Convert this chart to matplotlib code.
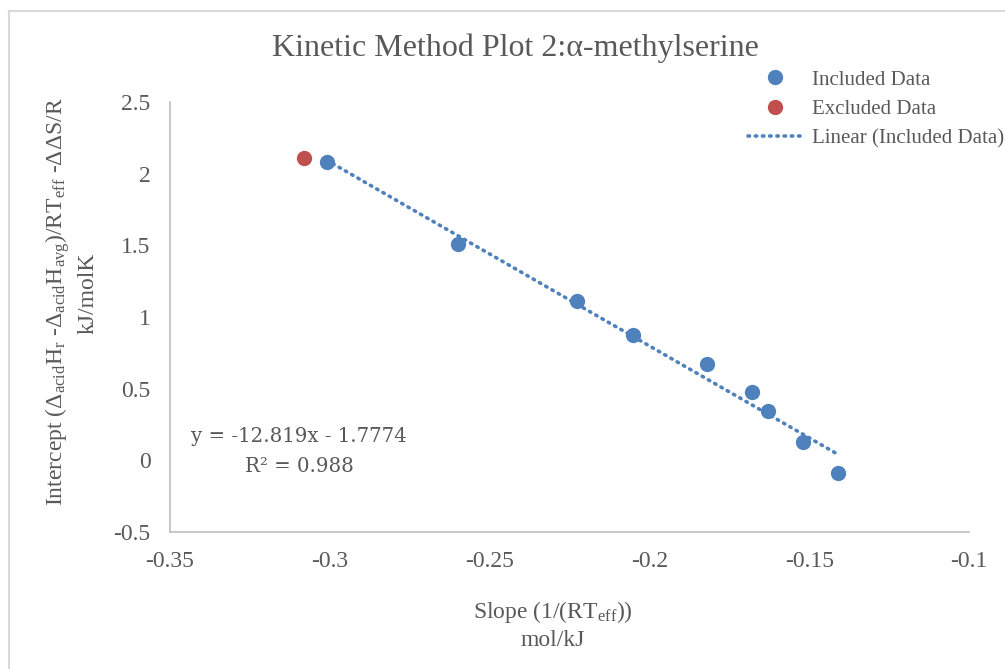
import numpy as np
import matplotlib
matplotlib.use("Agg")
import matplotlib.pyplot as plt
from matplotlib.lines import Line2D

# ---- data ----
slope_incl = [-0.301, -0.260, -0.2225, -0.205, -0.182, -0.168, -0.163, -0.152, -0.141]
icpt_incl = [2.080, 1.507, 1.115, 0.871, 0.675, 0.479, 0.346, 0.129, -0.087]
slope_excl = [-0.308]
icpt_excl = [2.108]

xticks = [-0.35, -0.3, -0.25, -0.2, -0.15, -0.1]
yticks = [-0.5, 0, 0.5, 1, 1.5, 2, 2.5]

blue = "#4F81BD"
red = "#C0504D"
grey = "#595959"

plt.rcParams["font.family"] = ["Liberation Serif", "DejaVu Serif"]
plt.rcParams["mathtext.fontset"] = "custom"
plt.rcParams["mathtext.rm"] = "Liberation Serif"
plt.rcParams["mathtext.it"] = "Liberation Serif:italic"

fig = plt.figure(figsize=(10.05, 6.69), dpi=100)
ax = fig.add_axes([170 / 1005, 1 - 532 / 669, (969 - 170) / 1005, (532 - 102) / 669])

# trendline over included data
m, b = np.polyfit(slope_incl, icpt_incl, 1)
xs = np.array([min(slope_incl), max(slope_incl)])
ax.plot(xs, m * xs + b, color=blue, lw=2.6, linestyle=(0, (0.4, 1.6)),
        dash_capstyle="round", zorder=2)

ax.plot(slope_incl, icpt_incl, "o", color=blue, ms=11, mec="none", zorder=3)
ax.plot(slope_excl, icpt_excl, "o", color=red, ms=11, mec="none", zorder=3)

ax.set_xlim(-0.35, -0.1)
ax.set_ylim(-0.5, 2.5)
ax.set_xticks(xticks)
ax.set_xticklabels([f"{t:g}" for t in xticks])
ax.set_yticks(yticks)
ax.set_yticklabels([f"{t:g}" for t in yticks])
ax.tick_params(length=0, labelsize=17, colors=grey, pad=14)
for s in ["top", "right"]:
    ax.spines[s].set_visible(False)
for s in ["left", "bottom"]:
    ax.spines[s].set_color("#BFBFBF")
    ax.spines[s].set_linewidth(1.2)

# title and axis titles
fig.text(515 / 1005, 1 - 48 / 669, "Kinetic Method Plot 2:\u03b1-methylserine",
         fontsize=23, color=grey, ha="center", va="center")
fig.text(553 / 1005, 1 - 612 / 669, r"Slope (1/(RT$_{\mathrm{eff}}$))",
         fontsize=17, color=grey, ha="center", va="center")
fig.text(553 / 1005, 1 - 641 / 669, "mol/kJ",
         fontsize=17, color=grey, ha="center", va="center")
fig.text(58 / 1005, 1 - 302 / 669,
         r"Intercept ($\Delta_{\mathrm{acid}}$H$_{\mathrm{r}}$ -$\Delta_{\mathrm{acid}}$H$_{\mathrm{avg}}$)/RT$_{\mathrm{eff}}$ -$\Delta\Delta$S/R",
         fontsize=17, color=grey, ha="center", va="center", rotation=90)
fig.text(88 / 1005, 1 - 293 / 669, "kJ/molK",
         fontsize=17, color=grey, ha="center", va="center", rotation=90)

# equation
fig.text(299 / 1005, 1 - 436 / 669, "y = -12.819x - 1.7774",
         fontsize=14.2, color=grey, ha="center", va="center", family="DejaVu Serif")
fig.text(299 / 1005, 1 - 466 / 669, "R\u00b2 = 0.988",
         fontsize=14.2, color=grey, ha="center", va="center", family="DejaVu Serif")

# legend
handles = [
    Line2D([], [], marker="o", ls="none", color=blue, ms=11, mec="none"),
    Line2D([], [], marker="o", ls="none", color=red, ms=11, mec="none"),
    Line2D([], [], color=blue, lw=2.6, linestyle=(0, (0.4, 1.6)), dash_capstyle="round"),
]
leg = fig.legend(handles, ["Included Data", "Excluded Data", "Linear (Included Data)"],
                 loc="upper left", bbox_to_anchor=(748 / 1005, 1 - 70 / 669),
                 frameon=False, fontsize=15, handlelength=2.6, handletextpad=0.45,
                 labelspacing=0.47, borderaxespad=0, borderpad=0)
for t in leg.get_texts():
    t.set_color(grey)

# chart area border (left and top visible)
fig.add_artist(Line2D([9 / 1005, 9 / 1005], [0, 1 - 11 / 669], color="#D9D9D9", lw=1.5))
fig.add_artist(Line2D([9 / 1005, 1], [1 - 11 / 669, 1 - 11 / 669], color="#D9D9D9", lw=1.5))

fig.savefig("out.png", dpi=100)
